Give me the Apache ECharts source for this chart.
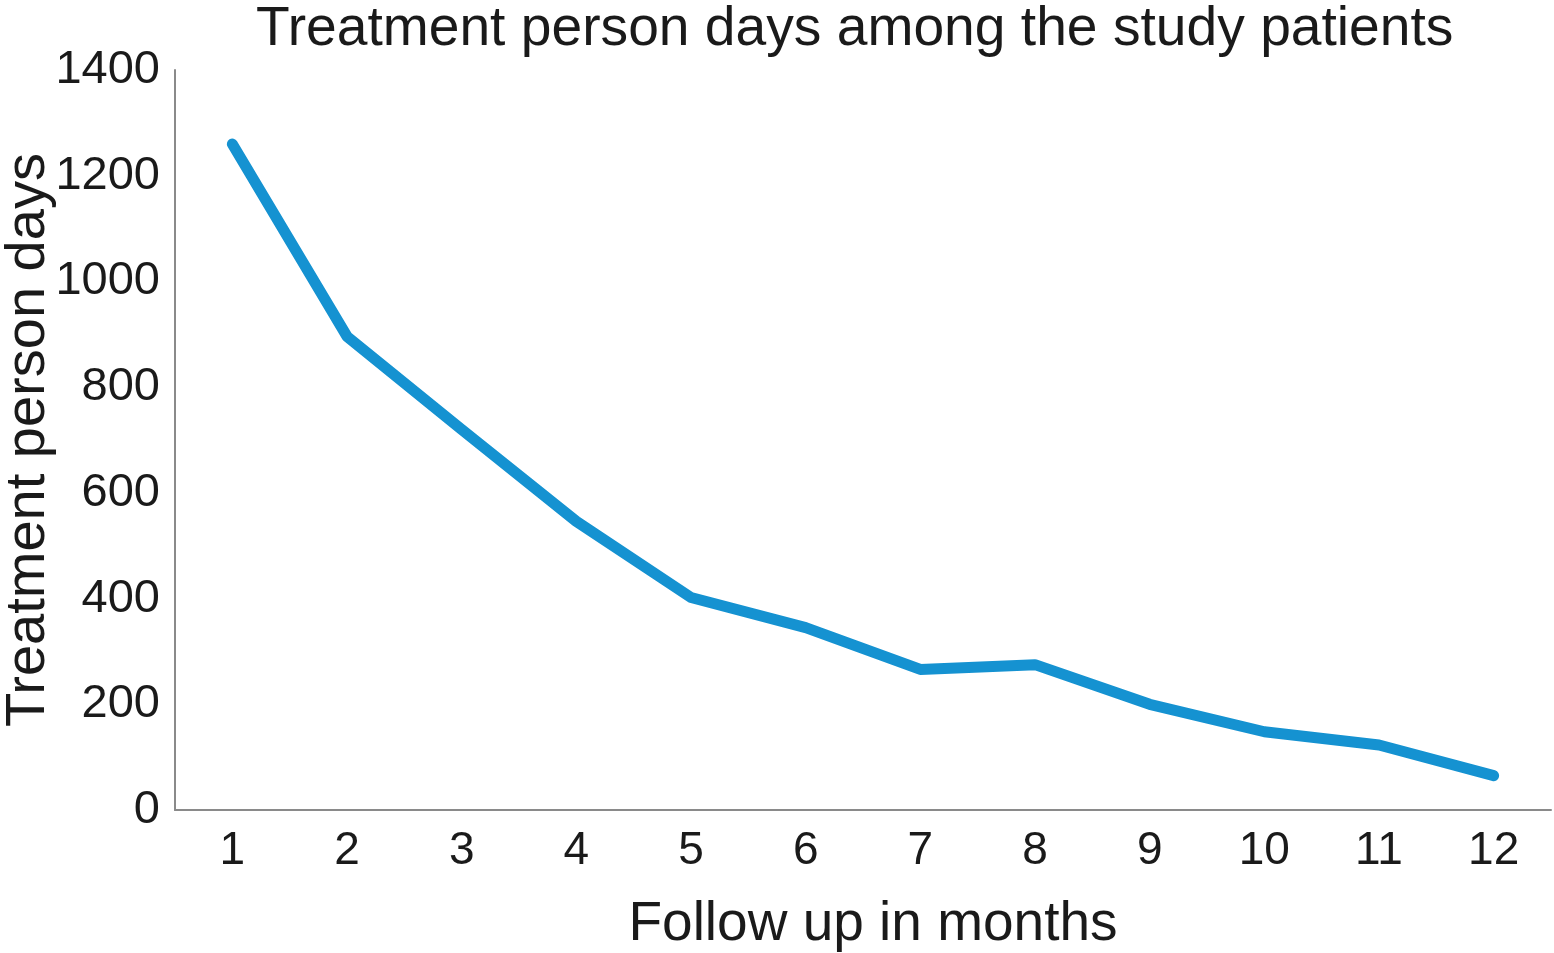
<!DOCTYPE html>
<html>
<head>
<meta charset="utf-8">
<script src="https://cdn.jsdelivr.net/npm/echarts@6/dist/echarts.min.js"></script>
<style>
html,body{margin:0;padding:0;background:#fff;}
#chart{width:1554px;height:953px;}
</style>
</head>
<body>
<div id="chart"></div>
<script>
const months = ['1','2','3','4','5','6','7','8','9','10','11','12'];
const personDays = [1260, 896, 720, 546, 402, 345, 266, 275, 200, 148, 123, 65];
const yTicks = {min: 0, max: 1400, interval: 200};

const chart = echarts.init(document.getElementById('chart'));
const font = 'Liberation Sans, Arial, Helvetica, sans-serif';
chart.setOption({
  animation: false,
  title: {
    text: 'Treatment person days among the study patients',
    left: 251,
    top: -3,
    textStyle: {fontFamily: font, fontSize: 55.2, fontWeight: 'normal', color: '#1a1a1a'}
  },
  grid: {left: 175, right: 3, top: 70, bottom: 143, containLabel: false, outerBoundsMode: 'none'},
  xAxis: {
    type: 'category',
    data: months,
    boundaryGap: true,
    name: 'Follow up in months',
    nameLocation: 'middle',
    nameGap: 87,
    nameMoveOverlap: false,
    nameTextStyle: {fontFamily: font, fontSize: 55, color: '#1a1a1a', padding: [0, 0, 0, 20]},
    axisLine: {lineStyle: {color: '#8a8a8a', width: 2}},
    axisTick: {show: false},
    axisLabel: {fontFamily: font, fontSize: 46, color: '#1a1a1a', margin: 18}
  },
  yAxis: {
    type: 'value',
    min: yTicks.min,
    max: yTicks.max,
    interval: yTicks.interval,
    name: 'Treatment person days',
    nameLocation: 'middle',
    nameGap: 118,
    nameMoveOverlap: false,
    nameTextStyle: {fontFamily: font, fontSize: 56, color: '#1a1a1a'},
    axisLine: {show: true, lineStyle: {color: '#8a8a8a', width: 2}},
    axisTick: {show: false},
    splitLine: {show: false},
    axisLabel: {fontFamily: font, fontSize: 47, color: '#1a1a1a', margin: 15, formatter: v => String(v)}
  },
  series: [{
    type: 'line',
    data: personDays,
    symbol: 'none',
    lineStyle: {color: '#1592d1', width: 11, cap: 'round', join: 'round'}
  }]
});
</script>
</body>
</html>
